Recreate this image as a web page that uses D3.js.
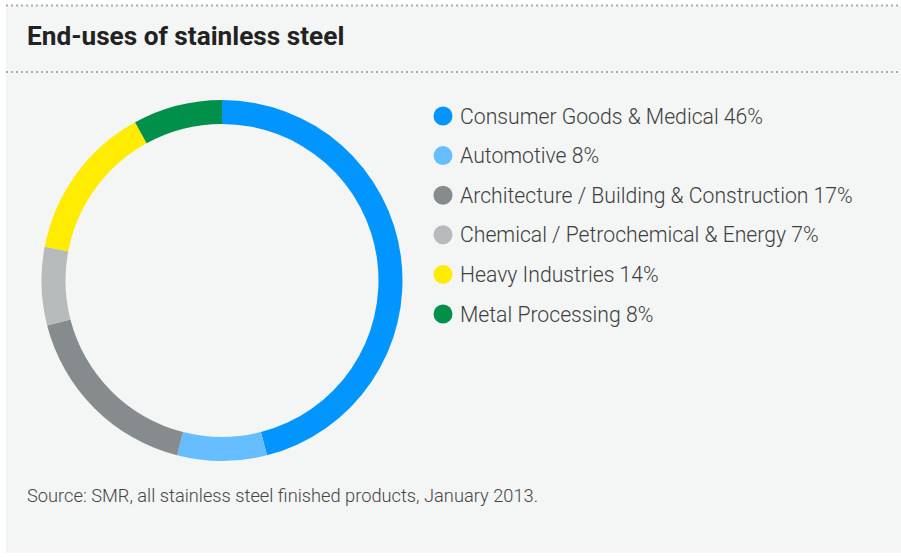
<!DOCTYPE html>
<html>
<head>
<meta charset="utf-8">
<script src="https://cdn.jsdelivr.net/npm/d3@7"></script>
<style>
  html, body { margin: 0; padding: 0; background: #ffffff; }
  svg { display: block; }
</style>
</head>
<body>
<svg id="chart" width="901" height="557"></svg>
<script>
// End-uses of stainless steel, share of finished products (%)
const categories = [
  "Consumer Goods & Medical",
  "Automotive",
  "Architecture / Building & Construction",
  "Chemical / Petrochemical & Energy",
  "Heavy Industries",
  "Metal Processing"
];
const shares = [46, 8, 17, 7, 14, 8];
const colors = ["#0095ff", "#66bdff", "#868b8e", "#b7babb", "#ffec00", "#00904a"];
const title = "End-uses of stainless steel";
const source = "Source: SMR, all stainless steel finished products, January 2013.";

const W = 901, H = 557;
const svg = d3.select("#chart");

// panel background
svg.append("rect")
  .attr("x", 6).attr("y", 5)
  .attr("width", W - 6).attr("height", 548)
  .attr("fill", "#f4f5f5");

// dotted rules above and below the title
[5.5, 72].forEach(y => {
  svg.append("line")
    .attr("x1", 6).attr("x2", W)
    .attr("y1", y).attr("y2", y)
    .attr("stroke", "#a9adaf")
    .attr("stroke-width", 2)
    .attr("stroke-dasharray", "2 3");
});

svg.append("text")
  .attr("x", 27).attr("y", 45)
  .attr("font-family", "Roboto, 'Liberation Sans', sans-serif")
  .attr("font-weight", 700)
  .attr("font-size", 26.2)
  .attr("fill", "#222222")
  .text(title);

// donut
const cx = 222, cy = 280.5, rOuter = 180.5, rInner = 156.5;
const pie = d3.pie().sort(null).value(d => d.value);
const arc = d3.arc().innerRadius(rInner).outerRadius(rOuter);
const data = categories.map((c, i) => ({ name: c, value: shares[i], color: colors[i] }));

svg.append("g")
  .attr("transform", `translate(${cx},${cy})`)
  .selectAll("path")
  .data(pie(data))
  .join("path")
  .attr("d", arc)
  .attr("fill", d => d.data.color);

// legend
const legendY = d3.scalePoint()
  .domain(categories)
  .range([116, 314]);

const legend = svg.append("g");
const rows = legend.selectAll("g")
  .data(data)
  .join("g")
  .attr("transform", d => `translate(0,${legendY(d.name)})`);

rows.append("circle")
  .attr("cx", 443).attr("cy", 0).attr("r", 9.5)
  .attr("fill", d => d.color);

rows.append("text")
  .attr("x", 460).attr("y", 7.5)
  .attr("font-family", "Roboto, 'Liberation Sans', sans-serif")
  .attr("font-weight", 300)
  .attr("font-size", 21.2)
  .attr("fill", "#3d3f40")
  .text(d => `${d.name} ${d.value}%`);

svg.append("text")
  .attr("x", 27).attr("y", 502)
  .attr("font-family", "Roboto, 'Liberation Sans', sans-serif")
  .attr("font-weight", 300)
  .attr("font-size", 18.25)
  .attr("fill", "#444444")
  .text(source);
</script>
</body>
</html>
